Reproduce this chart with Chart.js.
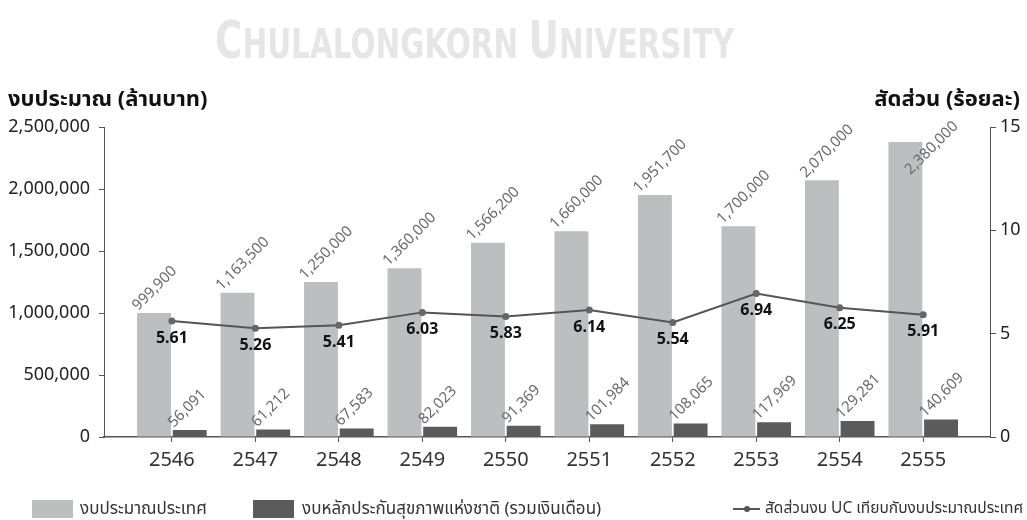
<!DOCTYPE html>
<html>
<head>
<meta charset="utf-8">
<script src="https://cdn.jsdelivr.net/npm/chart.js@4.4.1/dist/chart.umd.min.js"></script>
<style>
  html, body { margin: 0; padding: 0; background: #fff; }
  #wrap { position: relative; width: 1027px; height: 520px; overflow: hidden;
          font-family: 'Noto Sans Thai', 'Noto Sans', Tahoma, sans-serif; color: #222; }
  #chart { position: absolute; left: 0; top: 0; }
  #wm { position: absolute; left: 215px; top: 14px; white-space: nowrap; color: #e6e6e6;
        font-family: 'Liberation Sans Narrow', 'DejaVu Sans Condensed', sans-serif; font-weight: bold;
        transform-origin: 0 0; transform: scaleX(0.8); line-height: 1; }
  #wm .big { font-size: 52px; }
  #wm .sm { font-size: 41px; }
  .atitle { position: absolute; top: 83px; font-weight: bold; font-size: 22px; color: #111; white-space: nowrap; }
  #tl { left: 8px; }
  #tr { right: 7px; }
  .leg { position: absolute; top: 498px; font-size: 17px; color: #333; white-space: nowrap; line-height: 22px; }
  .box { position: absolute; top: 500px; width: 41px; height: 18px; }
  #lline { position: absolute; left: 733px; top: 508px; width: 27px; height: 2px; background: #555; }
  #ldot { position: absolute; left: 744px; top: 506px; width: 6px; height: 6px; border-radius: 50%; background: #555; }
</style>
</head>
<body>
<div id="wrap">
  <canvas id="chart" width="1027" height="520"></canvas>
  <div id="wm"><span class="big">C</span><span class="sm">HULALONGKORN </span><span class="big">U</span><span class="sm">NIVERSITY</span></div>
  <div class="atitle" id="tl">งบประมาณ (ล้านบาท)</div>
  <div class="atitle" id="tr">สัดส่วน (ร้อยละ)</div>
  <div class="box" style="left:32px;background:#bdbec0"></div>
  <div class="leg" style="left:80px">งบประมาณประเทศ</div>
  <div class="box" style="left:253px;background:#5b5b5d"></div>
  <div class="leg" style="left:302px">งบหลักประกันสุขภาพแห่งชาติ (รวมเงินเดือน)</div>
  <div id="lline"></div><div id="ldot"></div>
  <div class="leg" style="left:765px;font-size:15.5px">สัดส่วนงบ UC เทียบกับงบประมาณประเทศ</div>
</div>
<script>
// ---- data ----
const years = ['2546', '2547', '2548', '2549', '2550', '2551', '2552', '2553', '2554', '2555'];
const nationalBudget = [999900, 1163500, 1250000, 1360000, 1566200, 1660000, 1951700, 1700000, 2070000, 2380000];
const ucBudget = [56091, 61212, 67583, 82023, 91369, 101984, 108065, 117969, 129281, 140609];
const ucShare = [5.61, 5.26, 5.41, 6.03, 5.83, 6.14, 5.54, 6.94, 6.25, 5.91];
const leftTicks = [0, 500000, 1000000, 1500000, 2000000, 2500000];
const rightTicks = [0, 5, 10, 15];

const FONT = "'Noto Sans', 'Noto Sans Thai', Tahoma, sans-serif";
const fmt = v => Number(v).toLocaleString('en-US');
const toPts = arr => arr.map((v, i) => ({ x: i, y: v }));

const labelPlugin = {
  id: 'labels',
  afterDatasetsDraw(chart) {
    const ctx = chart.ctx;
    const area = chart.chartArea;
    ctx.save();
    [0, 1].forEach(di => {
      const meta = chart.getDatasetMeta(di);
      const vals = chart.data.datasets[di].data;
      ctx.font = '15px ' + FONT;
      ctx.fillStyle = '#6a6a6a';
      ctx.textAlign = 'left';
      ctx.textBaseline = 'alphabetic';
      meta.data.forEach((el, i) => {
        const txt = fmt(vals[i].y);
        const w = ctx.measureText(txt).width;
        let sx = el.x - el.width / 2 + 1;
        let sy = el.y - 2;
        const endY = sy - w * 0.7071 - 8;
        const limit = area.top - 8;
        if (endY < limit) { const d = limit - endY; sy += d; sx += d * 0.6; }
        ctx.save();
        ctx.translate(sx, sy);
        ctx.rotate(-Math.PI / 4);
        ctx.fillText(txt, 0, 0);
        ctx.restore();
      });
    });
    const lm = chart.getDatasetMeta(2);
    ctx.font = 'bold 16px ' + FONT;
    ctx.fillStyle = '#111';
    ctx.textAlign = 'center';
    ctx.textBaseline = 'middle';
    lm.data.forEach((el, i) => {
      ctx.fillText(ucShare[i].toFixed(2), el.x, el.y + 17);
    });
    ctx.restore();
  }
};

new Chart(document.getElementById('chart'), {
  data: {
    datasets: [
      { type: 'bar', label: 'งบประมาณประเทศ', data: toPts(nationalBudget), backgroundColor: '#bdbec0',
        yAxisID: 'y', order: 2, categoryPercentage: 0.855, barPercentage: 0.95 },
      { type: 'bar', label: 'งบหลักประกันสุขภาพแห่งชาติ (รวมเงินเดือน)', data: toPts(ucBudget), backgroundColor: '#5b5b5d',
        yAxisID: 'y', order: 2, categoryPercentage: 0.855, barPercentage: 0.95 },
      { type: 'line', label: 'สัดส่วนงบ UC เทียบกับงบประมาณประเทศ', data: toPts(ucShare), yAxisID: 'y2', order: 0,
        borderColor: '#555', borderWidth: 2, tension: 0, pointRadius: 3.5, pointBackgroundColor: '#666',
        pointBorderWidth: 0 }
    ]
  },
  plugins: [labelPlugin],
  options: {
    responsive: false,
    animation: false,
    devicePixelRatio: 1,
    layout: { padding: { top: 127, left: 0, right: 0, bottom: 0 } },
    plugins: { legend: { display: false }, tooltip: { enabled: false } },
    scales: {
      x: {
        type: 'linear', min: -0.813, max: 9.80, offset: false,
        afterBuildTicks: a => { a.ticks = years.map((_, i) => ({ value: i })); },
        afterFit: s => { s.height = 83; },
        ticks: { callback: v => years[v], font: { size: 20, family: FONT }, color: '#333', padding: 6, maxRotation: 0 },
        grid: { offset: false, drawOnChartArea: false, drawTicks: true, tickLength: 5, color: '#555' },
        border: { color: '#555', width: 1.5 }
      },
      y: {
        position: 'left', min: 0, max: 2500000,
        afterBuildTicks: a => { a.ticks = leftTicks.map(v => ({ value: v })); },
        afterFit: s => { s.width = 104; },
        ticks: { callback: v => fmt(v), font: { size: 18, family: FONT }, color: '#222', padding: 9 },
        grid: { drawOnChartArea: false, tickLength: 5, color: '#555' },
        border: { color: '#555', width: 1 }
      },
      y2: {
        position: 'right', min: 0, max: 15,
        afterBuildTicks: a => { a.ticks = rightTicks.map(v => ({ value: v })); },
        afterFit: s => { s.width = 37; },
        ticks: { font: { size: 18, family: FONT }, color: '#222', padding: 4 },
        grid: { drawOnChartArea: false, tickLength: 6, color: '#555' },
        border: { color: '#555', width: 1 }
      }
    }
  }
});
</script>
</body>
</html>
